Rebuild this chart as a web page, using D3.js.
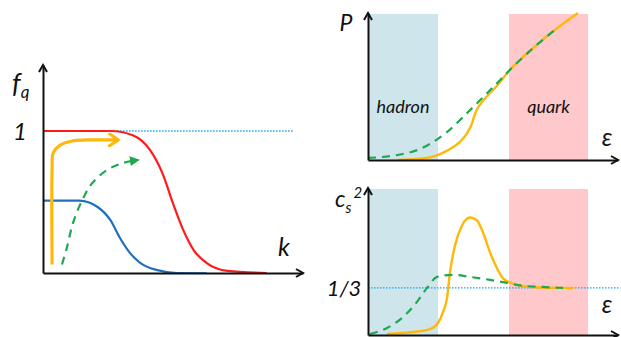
<!DOCTYPE html>
<html>
<head>
<meta charset="utf-8">
<script src="https://cdn.jsdelivr.net/npm/d3@7"></script>
<style>
  body { margin: 0; background: #fff; }
  text { font-family: Lato, "Open Sans", sans-serif; font-style: italic; fill: #111; }
</style>
</head>
<body>
<svg id="chart" width="621" height="337"></svg>
<script>
// ---- left panel: f_q(k)
const redK  = [0, 2.6, 3.45, 4.1, 4.6, 5.0, 5.4, 5.8, 6.3, 7.1, 8.6];
const redF  = [1, 1, 0.97, 0.87, 0.70, 0.49, 0.30, 0.16, 0.07, 0.015, 0];
const blueK = [0, 1.4, 2.1, 2.6, 2.95, 3.35, 3.75, 4.4, 5.15, 6.3];
const blueF = [0.51, 0.51, 0.465, 0.37, 0.25, 0.14, 0.07, 0.02, 0, 0];
const arrowOrangeK = [0.35, 0.35, 0.39, 0.65, 1.12, 1.7, 2.9];
const arrowOrangeF = [0.06, 0.74, 0.845, 0.90, 0.93, 0.937, 0.937];
const arrowGreenK  = [0.73, 0.92, 1.15, 1.5, 1.88, 2.46, 3.08, 3.65];
const arrowGreenF  = [0.06, 0.18, 0.35, 0.51, 0.63, 0.725, 0.775, 0.796];
const refF = 1;
const refKRange = [2.85, 9.6];

// ---- top right: P(eps)
const pOrangeE = [1.2, 1.96, 2.48, 2.88, 3.28, 3.68, 3.96, 4.16, 4.26, 4.38, 4.56, 4.8, 5.16, 5.68, 6.48, 7.56, 8.4];
const pOrangeV = [0, 0.007, 0.018, 0.041, 0.075, 0.125, 0.183, 0.251, 0.308, 0.354, 0.399, 0.445, 0.51, 0.62, 0.75, 0.905, 1.01];
const pGreenE  = [0, 1.16, 1.96, 2.6, 3.16, 3.8, 4.36, 4.88, 5.28, 5.68, 6.48, 7.56];
const pGreenV  = [0.014, 0.034, 0.068, 0.123, 0.192, 0.295, 0.39, 0.479, 0.548, 0.62, 0.75, 0.905];

// ---- bottom right: cs^2(eps)
const cOrangeE = [0.76, 1.8, 2.48, 2.8, 3.0, 3.16, 3.28, 3.48, 3.76, 4.08, 4.36, 4.6, 4.88, 5.16, 5.4, 5.76, 6.2, 7.16, 8.2];
const cOrangeV = [0.007, 0.021, 0.042, 0.085, 0.162, 0.261, 0.444, 0.634, 0.775, 0.831, 0.81, 0.725, 0.585, 0.472, 0.401, 0.366, 0.345, 0.334, 0.333];
const cGreenE  = [0.08, 0.76, 1.4, 1.96, 2.36, 2.76, 3.4, 4.08, 4.88, 5.56, 6.2, 7.0, 7.8];
const cGreenV  = [0.007, 0.05, 0.127, 0.234, 0.333, 0.411, 0.426, 0.411, 0.39, 0.369, 0.348, 0.34, 0.333];
const conformal = 1 / 3;

const bandNames = ["hadron", "quark"];
const bandRanges = [[0, 2.8], [5.64, 8.8]];

const C = {
  red: "#ff1a1a", blue: "#1f6fc0", orange: "#ffb80a", green: "#1fa84f",
  dot: "#1aa3e8", axis: "#111", hadron: "#cde5eb", quark: "#ffc8cb"
};

const svg = d3.select("#chart");
const zip = (a, b) => a.map((v, i) => [v, b[i]]);

const defs = svg.append("defs");
defs.append("marker").attr("id", "headO")
  .attr("viewBox", "0 0 14 14").attr("refX", 11).attr("refY", 7)
  .attr("markerWidth", 14).attr("markerHeight", 14)
  .attr("markerUnits", "userSpaceOnUse").attr("orient", "auto")
  .append("path").attr("d", "M2,1L11,7L2,13")
  .attr("fill", "none").attr("stroke", C.orange).attr("stroke-width", 3)
  .attr("stroke-linecap", "round").attr("stroke-linejoin", "round");
defs.append("marker").attr("id", "headG")
  .attr("viewBox", "0 0 10 10").attr("refX", 8).attr("refY", 5)
  .attr("markerWidth", 10).attr("markerHeight", 10)
  .attr("markerUnits", "userSpaceOnUse").attr("orient", "auto")
  .append("path").attr("d", "M0,0L10,5L0,10Z").attr("fill", C.green);
const grad = defs.append("linearGradient").attr("id", "blueFade")
  .attr("x1", "0%").attr("x2", "100%");
grad.append("stop").attr("offset", "0%").attr("stop-color", C.blue);
grad.append("stop").attr("offset", "75%").attr("stop-color", C.blue);
grad.append("stop").attr("offset", "100%").attr("stop-color", "#4aa3e6");

// axis with arrow tips
function drawAxes(x, y) {
  const x0 = x.range()[0], x1 = x.range()[1], y0 = y.range()[0], y1 = y.range()[1];
  svg.append("g").attr("transform", `translate(0,${y0})`)
    .call(d3.axisBottom(x).tickValues([]).tickSizeOuter(0))
    .select(".domain").attr("stroke", C.axis).attr("stroke-width", 2);
  svg.append("g").attr("transform", `translate(${x0},0)`)
    .call(d3.axisLeft(y).tickValues([]).tickSizeOuter(0))
    .select(".domain").attr("stroke", C.axis).attr("stroke-width", 2);
  const tip = svg.append("g").attr("fill", "none").attr("stroke", C.axis)
    .attr("stroke-width", 2).attr("stroke-linejoin", "miter");
  tip.append("path").attr("d", `M${x1 - 7},${y0 - 4}L${x1},${y0}L${x1 - 7},${y0 + 4}`);
  tip.append("path").attr("d", `M${x0 - 4},${y1 + 7}L${x0},${y1}L${x0 + 4},${y1 + 7}`);
}

function label(x, y, str, size, anchor) {
  return svg.append("text").attr("x", x).attr("y", y)
    .attr("font-size", size).attr("text-anchor", anchor || "start").text(str);
}

// ---------- left panel
const xL = d3.scaleLinear().domain([0, 10]).range([43, 303]);
const yL = d3.scaleLinear().domain([0, 1.465]).range([273, 65]);
const lineL = d3.line().x(d => xL(d[0])).y(d => yL(d[1]));

svg.append("line")
  .attr("x1", xL(refKRange[0])).attr("x2", xL(refKRange[1]))
  .attr("y1", yL(refF)).attr("y2", yL(refF))
  .attr("stroke", C.dot).attr("stroke-width", 1.3).attr("stroke-dasharray", "1.5,1.5");

svg.append("path").datum(zip(blueK, blueF))
  .attr("d", lineL.curve(d3.curveMonotoneX))
  .attr("fill", "none").attr("stroke", "url(#blueFade)").attr("stroke-width", 2.2);
svg.append("path").datum(zip(redK, redF))
  .attr("d", lineL.curve(d3.curveMonotoneX))
  .attr("fill", "none").attr("stroke", C.red).attr("stroke-width", 2.2);
svg.append("path").datum(zip(arrowOrangeK, arrowOrangeF))
  .attr("d", lineL.curve(d3.curveCatmullRom.alpha(0.5)))
  .attr("fill", "none").attr("stroke", C.orange).attr("stroke-width", 3.2)
  .attr("marker-end", "url(#headO)");
svg.append("path").datum(zip(arrowGreenK, arrowGreenF))
  .attr("d", lineL.curve(d3.curveCatmullRom.alpha(0.5)))
  .attr("fill", "none").attr("stroke", C.green).attr("stroke-width", 2.2)
  .attr("stroke-dasharray", "8,6").attr("marker-end", "url(#headG)");

drawAxes(xL, yL);

const fq = label(12, 93, "f", 27);
fq.append("tspan").attr("font-size", 17).attr("dy", 5).text("q");
label(20, 140, "1", 24, "middle");
label(284, 256, "k", 25, "middle");

// ---------- right panels
const xR = d3.scaleLinear().domain([0, 10]).range([368, 618]);
const yT = d3.scaleLinear().domain([0, 1.01]).range([160, 13]);
const yB = d3.scaleLinear().domain([0, 1.04]).range([335, 188]);

function bands(y) {
  svg.append("g").selectAll("rect").data(bandRanges).join("rect")
    .attr("x", d => xR(d[0])).attr("width", d => xR(d[1]) - xR(d[0]))
    .attr("y", y.range()[1] + 1).attr("height", y.range()[0] - y.range()[1] - 1)
    .attr("fill", (d, i) => i === 0 ? C.hadron : C.quark);
}

// top
bands(yT);
svg.append("g").selectAll("text").data(bandNames).join("text")
  .attr("x", (d, i) => xR((bandRanges[i][0] + bandRanges[i][1]) / 2))
  .attr("y", 113).attr("font-size", 18).attr("text-anchor", "middle")
  .text(d => d);
const lineT = d3.line().x(d => xR(d[0])).y(d => yT(d[1])).curve(d3.curveMonotoneX);
svg.append("path").datum(zip(pOrangeE, pOrangeV)).attr("d", lineT)
  .attr("fill", "none").attr("stroke", C.orange).attr("stroke-width", 2.4);
svg.append("path").datum(zip(pGreenE, pGreenV)).attr("d", lineT)
  .attr("fill", "none").attr("stroke", C.green).attr("stroke-width", 2.2)
  .attr("stroke-dasharray", "8,6");
drawAxes(xR, yT);
label(346, 31, "P", 23, "middle");
label(607, 146, "ε", 25, "middle");

// bottom
bands(yB);
svg.append("line")
  .attr("x1", xR(0)).attr("x2", xR(10.1))
  .attr("y1", yB(conformal)).attr("y2", yB(conformal))
  .attr("stroke", C.dot).attr("stroke-width", 1.3).attr("stroke-dasharray", "1.5,1.5");
const lineB = d3.line().x(d => xR(d[0])).y(d => yB(d[1])).curve(d3.curveMonotoneX);
svg.append("path").datum(zip(cOrangeE, cOrangeV)).attr("d", lineB)
  .attr("fill", "none").attr("stroke", C.orange).attr("stroke-width", 2.4);
svg.append("path").datum(zip(cGreenE, cGreenV)).attr("d", lineB)
  .attr("fill", "none").attr("stroke", C.green).attr("stroke-width", 2.2)
  .attr("stroke-dasharray", "8,6");
drawAxes(xR, yB);
const cs = label(335, 207, "c", 23);
cs.append("tspan").attr("font-size", 15).attr("dy", 6).text("s");
cs.append("tspan").attr("font-size", 15).attr("dy", -15).attr("dx", 2).text("2");
label(344, 296, "1/3", 22, "middle");
label(607, 313, "ε", 25, "middle");
</script>
</body>
</html>
